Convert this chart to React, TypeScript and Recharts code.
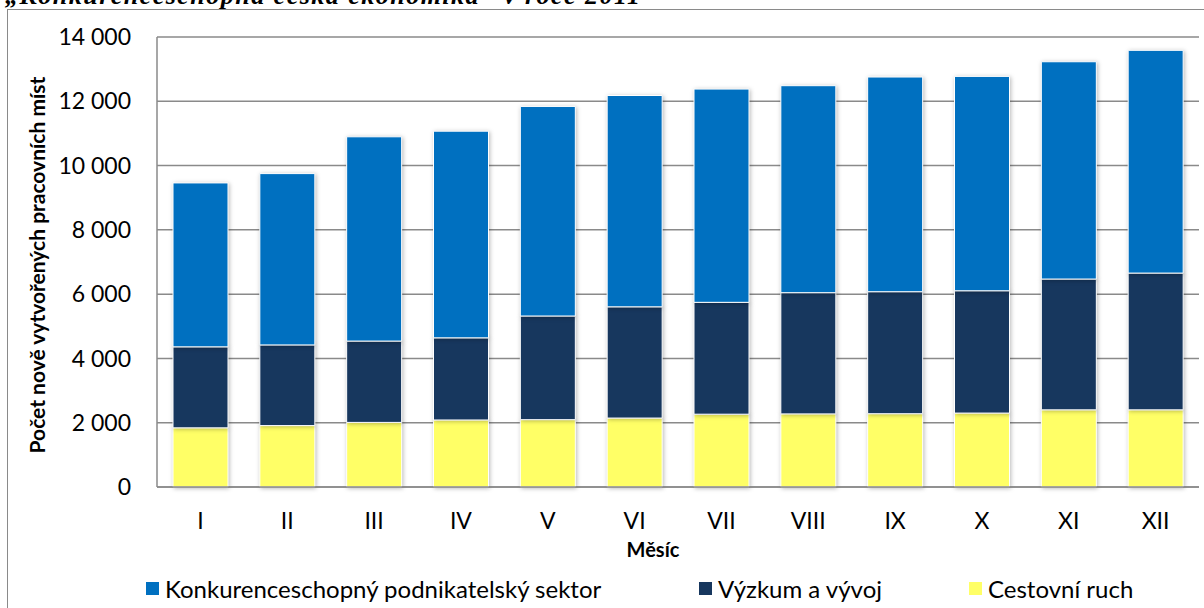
import { Bar, BarChart, CartesianGrid, Legend, XAxis, YAxis } from "recharts"

// Months (Roman numerals) and new jobs per programme
const months = ["I", "II", "III", "IV", "V", "VI", "VII", "VIII", "IX", "X", "XI", "XII"]
const konkurence = [5100, 5330, 6355, 6430, 6520, 6575, 6635, 6440, 6680, 6670, 6760, 6930]
const vyzkum = [2520, 2510, 2530, 2555, 3225, 3460, 3480, 3770, 3795, 3805, 4070, 4255]
const cestovni = [1840, 1910, 2010, 2085, 2095, 2145, 2265, 2275, 2280, 2300, 2400, 2400]
const yTicks = [0, 2000, 4000, 6000, 8000, 10000, 12000, 14000]

const seriesNames = {
  konkurence: "Konkurenceschopný podnikatelský sektor",
  vyzkum: "Výzkum a vývoj",
  cestovni: "Cestovní ruch",
}

const data = months.map((m, i) => ({
  month: m,
  konkurence: konkurence[i],
  vyzkum: vyzkum[i],
  cestovni: cestovni[i],
}))

const FONT = "Lato, 'Open Sans', sans-serif"
const GRID = "#8a8a8a"

const fmt = (v: number) => String(v).replace(/\B(?=(\d{3})+(?!\d))/g, " ")

const legendItems = [
  { key: "konkurence", color: "#0070C0", left: 146 },
  { key: "vyzkum", color: "#17375E", left: 699 },
  { key: "cestovni", color: "#FFFF66", left: 969 },
]

const renderLegend = () => (
  <div style={{ position: "relative", height: 30, fontFamily: FONT, fontSize: 24, color: "#000" }}>
    {legendItems.map((it) => (
      <div
        key={it.key}
        style={{ position: "absolute", left: it.left, top: 0, display: "flex", alignItems: "center", height: 30, whiteSpace: "nowrap" }}
      >
        <span style={{ width: 13, height: 13, background: it.color, marginRight: 6, display: "inline-block" }} />
        <span>{seriesNames[it.key as keyof typeof seriesNames]}</span>
      </div>
    ))}
  </div>
)

export default function App() {
  return (
    <div style={{ position: "relative", width: 1204, height: 608, overflow: "hidden", background: "#fff" }}>
      <style>{`
        body { margin: 0; }
        .recharts-bar-rectangles { filter: drop-shadow(1px 1px 2px rgba(0,0,0,0.28)); }
      `}</style>
      <svg style={{ position: "absolute", left: 0, top: 0 }} width={1204} height={12}>
        <text
          x={5}
          y={4}
          textLength={635}
          fontFamily="'Liberation Serif', 'Times New Roman', serif"
          fontWeight="bold"
          fontStyle="italic"
          fontSize={26}
          fill="#000"
        >
          „Konkurenceschopná česká ekonomika" v roce 2011
        </text>
      </svg>
      <div
        style={{
          position: "absolute",
          left: 7,
          top: 9,
          width: 1300,
          height: 700,
          border: "1.5px solid #8a8a8a",
          boxSizing: "border-box",
        }}
      />
      <div style={{ position: "absolute", left: 0, top: 0 }}>
        <BarChart
          width={1204}
          height={608}
          data={data}
          margin={{ top: 37, right: 5, left: 0, bottom: 5 }}
          barSize={55}
        >
          <CartesianGrid vertical={false} stroke={GRID} strokeWidth={1.5} />
          <XAxis
            dataKey="month"
            height={86}
            axisLine={{ stroke: GRID, strokeWidth: 1.5 }}
            tickLine={false}
            tickMargin={20}
            tick={{ fontFamily: FONT, fontSize: 23, fill: "#000" }}
            label={{
              content: (props: any) => {
                const vb = props.viewBox
                return (
                  <text
                    x={653}
                    y={vb.y + 70}
                    textAnchor="middle"
                    fontFamily={FONT}
                    fontWeight="bold"
                    fontSize={20}
                    fill="#000"
                  >
                    Měsíc
                  </text>
                )
              },
            }}
          />
          <YAxis
            width={157}
            domain={[0, 14000]}
            ticks={yTicks}
            interval={0}
            axisLine={{ stroke: GRID, strokeWidth: 1.5 }}
            tickLine={false}
            tickMargin={20}
            tickFormatter={fmt}
            tick={{ fontFamily: FONT, fontSize: 23, fill: "#000" }}
            label={{
              content: (props: any) => {
                const vb = props.viewBox
                const cy = vb.y + vb.height / 2 + 3
                return (
                  <text
                    x={36}
                    y={cy}
                    transform={`rotate(-90, 36, ${cy})`}
                    textAnchor="middle"
                    dominantBaseline="central"
                    fontFamily={FONT}
                    fontWeight="bold"
                    fontSize={21}
                    fill="#000"
                  >
                    Počet nově vytvořených pracovních míst
                  </text>
                )
              },
            }}
          />
          <Legend verticalAlign="bottom" height={30} content={renderLegend} />
          <Bar dataKey="cestovni" name={seriesNames.cestovni} stackId="a" fill="#FFFF66" stroke="#fff" strokeWidth={1} isAnimationActive={false} />
          <Bar dataKey="vyzkum" name={seriesNames.vyzkum} stackId="a" fill="#17375E" stroke="#fff" strokeWidth={1} isAnimationActive={false} />
          <Bar dataKey="konkurence" name={seriesNames.konkurence} stackId="a" fill="#0070C0" stroke="#fff" strokeWidth={1} isAnimationActive={false} />
        </BarChart>
      </div>
    </div>
  )
}
